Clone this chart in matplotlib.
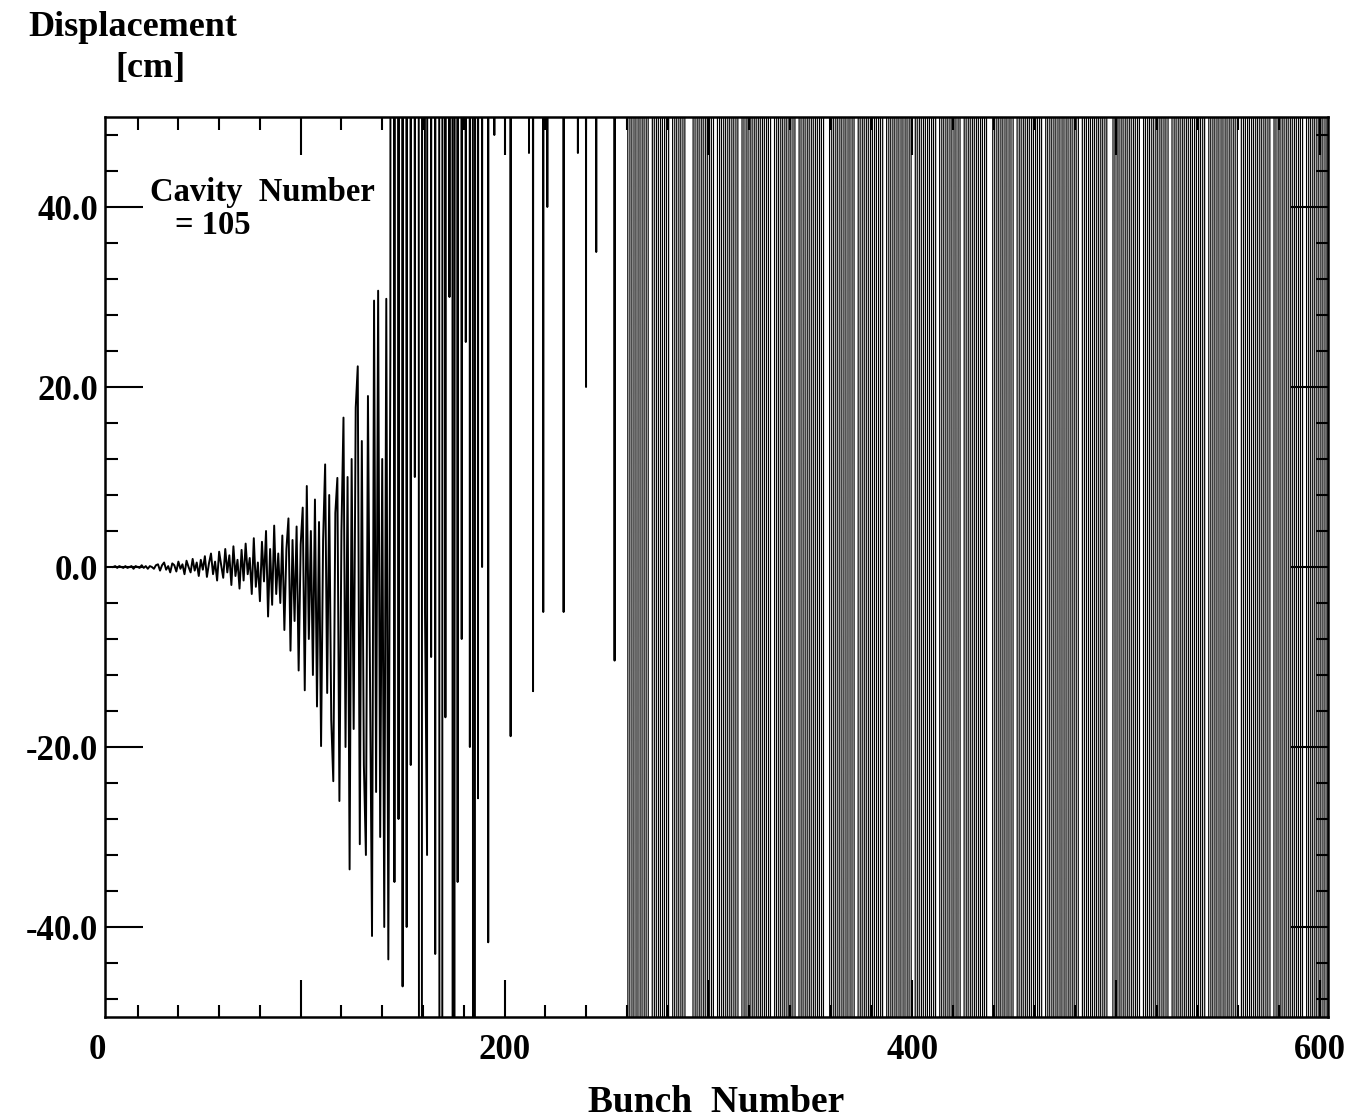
import numpy as np
import matplotlib.pyplot as plt
from matplotlib.ticker import MultipleLocator

HI = 999.0    # off the top of the scale
LO = -999.0   # off the bottom of the scale

# bunches 8..150
disp_early = [
    0.0, 0.1, -0.1, 0.1, 0.0, -0.1, 0.1, -0.1, 0.0, 0.1, -0.2, 0.1, 0.0, -0.1, 0.2, -0.1, 0.1, -0.2, 0.1, 0.0, -0.2, 0.2,
    0.3, -0.4, 0.2, 0.5, -0.3, 0.1, -0.6, 0.4, 0.2, -0.5, 0.6, -0.2, 0.3, -0.8, 0.7, 0.0, -0.6, 0.9, -0.4, 0.5,
    -1.0, 0.8, -0.3, 1.2, -1.1, 0.4, 1.5, -0.8, 0.6, -1.5, 1.7, 0.2, -1.2, 2.0, -0.6, 1.3, -2.0, 2.3, -1.0, 0.8,
    -2.4, 1.9, -1.5, 2.6, -0.8, 1.0, -3.0, 3.2, -2.2, 0.5, -3.8, 2.8, -1.6, 4.0, -5.5, 2.0, -4.2, 4.6, -3.0, 1.5,
    -4.0, 3.5, -7.0, 2.0, 5.4, -9.3, 3.0, -6.0, 4.5, -11.5,
    2.5, 6.6, -13.7, 9.0, -8.0, 4.0, -12.0, 7.5, -15.5, 5.0,
    -19.9, 3.0, 11.4, -14.0, 8.0, -17.0, -23.8, 6.0, 9.9, -26.0,
    4.0, 16.6, -20.0, 10.0, -33.6, 12.0, -18.0, 17.7, 22.3, -30.8,
    14.0, -22.0, -32.0, 19.0, -12.0, -41.0, 29.6, -25.0, 30.7, -30.0,
    12.0, -40.0, 29.8, -43.6, 24.0, HI, -35.0, HI, -28.0, HI,
    -46.6,
]

# bunches 151..259: mostly off scale, some dips
disp_mid = [
    HI, -40.0, HI, -22.0, HI, 10.0, HI, -32.0, LO, HI,
    -5.0, -32.0, HI, -10.0, HI, -43.0, HI, 5.0, LO, HI,
    -16.7, HI, 30.0, HI, LO, HI, -35.0, HI, -8.0, HI,
    25.0, HI, -20.0, HI, LO, HI, -25.7, HI, 0.0, HI,
    HI, -41.7, HI, HI, 48.0, HI, HI, HI, HI, HI,
    HI, HI, -18.8, HI, HI, HI, HI, HI, HI, HI,
    HI, 46.0, HI, -13.8, HI, HI, HI, HI, -5.0, HI,
    40.0, HI, HI, HI, HI, HI, HI, HI, -5.0, HI,
    HI, HI, HI, HI, HI, 46.0, HI, HI, HI, 20.0,
    HI, HI, HI, HI, 35.0, HI, HI, HI, HI, HI,
    HI, HI, HI, -10.4, HI, HI, HI, HI, HI,
]

# bunches 260 onwards: every value off scale, only the sign is visible
late_signs = (
    "+-+-+-+-+-" "+--+-+-+-+" "-++-+-+-+-" "---+-+-+-+" "-+-++-+-+-"
    "+-+-+--+-+" "-+-+-+-+-+" "-++-+-+-+-" "+-+--+-+-+" "-+-+-+-+++"
    "-+-+-+-+-+" "-+--+-+-+-" "+-+-+-++-+" "-+-+-+-+-+" "--+-+-+-+-"
    "+-++-+-+-+" "-+-+--+-+-" "+-+-+-+---" "+-+-+-+-+-" "++-+-+-+-+"
    "-+-+--+-+-" "+-+-+-+-+-" "+-++-+-+-+" "-+-+-+---+" "-+-+-+-+-+"
    "-+--+-+-+-" "+-+-+-++-+" "-+-+-+-+-+" "-+-+--+-+-" "+-+-+-+-+-"
    "++-+-+-+-+" "-+-+-+--+-" "+-+-+-+-+-" "+-++-+-+-+" "-+-+-+-+-+"
    "-+-+-+-+-+"
)

first_bunch = 8
late_vals = [HI if s == "+" else LO for s in late_signs]
disp = np.array(disp_early + disp_mid + late_vals)
bunch = first_bunch + np.arange(len(disp))
k = len(disp_early) + len(disp_mid)

xtick_labels = [0, 200, 400, 600]

plt.rcParams['font.family'] = ['Liberation Serif', 'DejaVu Serif']
plt.rcParams['font.weight'] = 'bold'

fig = plt.figure(figsize=(13.71, 11.2), dpi=100, facecolor="white")
ax = fig.add_axes([105/1371, 1 - 1017/1120, (1328-105)/1371, (1017-117)/1120])

ax.plot(bunch[:k + 1], disp[:k + 1], color="black", lw=1.4)
ax.plot(bunch[k:], disp[k:], color="black", lw=0.85)

ax.set_xlim(4, 604)
ax.set_ylim(-50, 50)

ax.xaxis.set_major_locator(MultipleLocator(100))
ax.xaxis.set_minor_locator(MultipleLocator(20))
ax.yaxis.set_major_locator(MultipleLocator(20))
ax.yaxis.set_minor_locator(MultipleLocator(4))
ax.tick_params(which="both", direction="in", top=True, right=True, width=1.5, color="black")
ax.tick_params(which="major", length=27)
ax.tick_params(which="minor", length=9)
ax.tick_params(axis="x", labelbottom=False)
ax.tick_params(axis="y", labelsize=25, pad=5)
ax.yaxis.set_major_formatter(plt.FuncFormatter(lambda v, p: "%.1f" % v))
for s in ax.spines.values():
    s.set_linewidth(1.8)

for v in xtick_labels:
    ax.text(v, -0.037, str(v), transform=ax.get_xaxis_transform(), ha="center", va="center",
            fontsize=25, fontweight="bold")

fig.text(28/1371, 1 - 27/1120, "Displacement", fontsize=26, fontweight="bold", ha="left", va="center")
fig.text(150/1371, 1 - 68/1120, "[cm]", fontsize=26, fontweight="bold", ha="center", va="center")
fig.text(716/1371, 1 - 1103/1120, "Bunch  Number", fontsize=27, fontweight="bold", ha="center", va="center")
ax.text(150/1371, 1 - 192/1120, "Cavity  Number", transform=fig.transFigure, fontsize=23.5,
        fontweight="bold", ha="left", va="center")
ax.text(175/1371, 1 - 226/1120, "= 105", transform=fig.transFigure, fontsize=23.5,
        fontweight="bold", ha="left", va="center")

fig.savefig("out.png", dpi=100, facecolor="white")
